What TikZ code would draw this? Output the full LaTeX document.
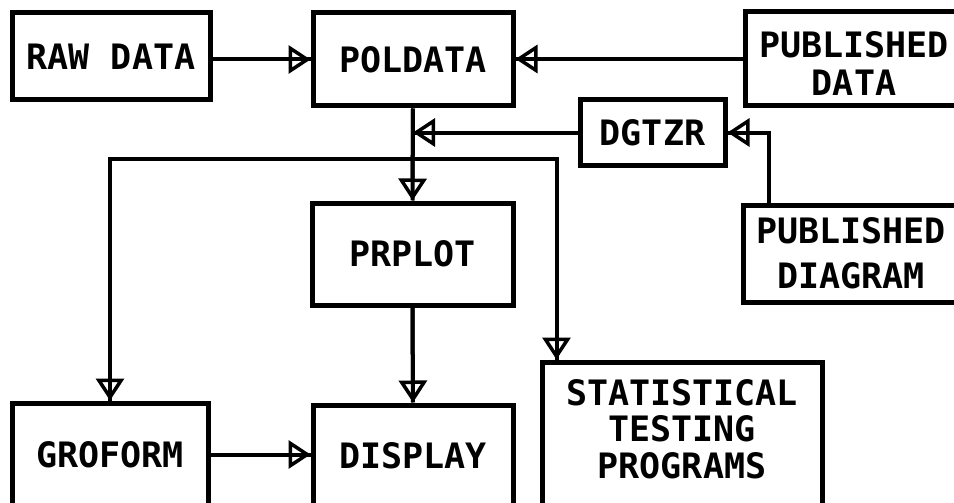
\documentclass[tikz,border=0pt]{standalone}
\usepackage{fontspec}
\newfontfamily\boxfont{DejaVu Sans Mono}
\usetikzlibrary{arrows.meta}
% centred stack of lines, moved down by #1 without changing its size
\newcommand\boxlines[2]{\raisebox{#1}[\height][\depth]{\begin{tabular}{@{}c@{}}#2\end{tabular}}}
\begin{document}
\begin{tikzpicture}[x=1pt, y=-1pt,
  box/.style={draw, line width=5pt, align=center, inner sep=0pt,
    font=\boxfont\bfseries\fontsize{35}{38}\selectfont},
  flow/.style={line width=4pt,
    -{Triangle[open, length=22pt, width=28pt, line width=3.5pt]},
    postaction={draw, -, line width=4pt}}]
  \useasboundingbox (0,0) rectangle (954,503);
  \fill[white] (0,0) rectangle (954,503);
  \begin{scope}[overlay]
  \clip (0,0) rectangle (954,503);

  % program and data boxes
  \node[box, minimum width=198pt, minimum height=87pt]  (raw)   at (111,56.5)   {RAW DATA};
  \node[box, minimum width=200pt, minimum height=93pt]  (pol)   at (413,59.5)   {POLDATA};
  \node[box, minimum width=300pt, minimum height=94pt]  (pdata) at (895,59)
    {\kern-82pt\boxlines{-10pt}{PUBLISHED\\DATA}};
  \node[box, minimum width=145pt, minimum height=65pt]  (dg)    at (652.5,132.5){DGTZR};
  \node[box, minimum width=300pt, minimum height=97pt]  (pdiag) at (893,253.5)
    {\kern-84pt\boxlines{-5pt}{PUBLISHED\\[7pt]DIAGRAM}};
  \node[box, minimum width=201pt, minimum height=102pt] (prp)   at (412.5,254)  {PRPLOT};
  \node[box, minimum width=196pt, minimum height=103pt] (gro)   at (110,454.5)  {GROFORM};
  \node[box, minimum width=200pt, minimum height=101pt] (disp)  at (413,455.5)  {DISPLAY};
  \node[box, minimum width=280pt, minimum height=144pt] (stat)  at (682,434)
    {\fontsize{35}{35}\selectfont\boxlines{0pt}{STATISTICAL\\TESTING\\PROGRAMS}};

  % junction and entry points
  \coordinate (tee)    at (pol.south |- 0,159);
  \coordinate (statin) at ([xshift=17pt]stat.north west);
  \coordinate (pdup)   at ([xshift=28pt]pdiag.north west);

  % data flow
  \draw[flow] (raw.east |- pol.west) -- (pol.west);
  \draw[flow] (pdata.west) -- (pdata.west -| pol.east);
  \draw[flow] (pol.south) -- (prp.north);
  \draw[flow] (dg.west) -- (dg.west -| pol.south);
  \draw[flow] (pdup) |- (dg.east);
  \draw[flow] (tee) -| (gro.north);
  \draw[flow] (tee) -| (statin);
  \draw[flow] (prp.south) -- (disp.north);
  \draw[flow] (gro.east) -- (gro.east -| disp.west);
  \end{scope}
\end{tikzpicture}
\end{document}
